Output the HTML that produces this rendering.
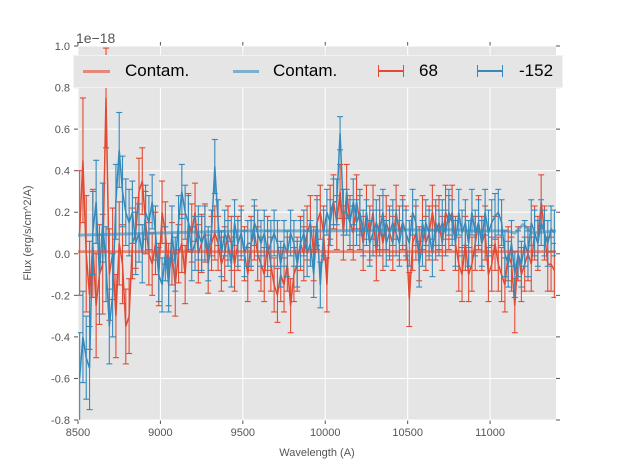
<!DOCTYPE html>
<html><head><meta charset="utf-8"><style>
body{margin:0;background:#fff;width:617px;height:467px;overflow:hidden}
svg{display:block;font-family:"Liberation Sans",sans-serif}
</style></head><body>
<svg id="chart" width="617" height="467" xmlns="http://www.w3.org/2000/svg"></svg>
<script>
const redFlux=[0.1,0.45,0.0,-0.2,0.05,-0.25,-0.1,-0.05,0.75,-0.1,
0.0,-0.3,0.05,-0.05,-0.35,-0.3,0.05,0.1,0.3,0.35,
0.15,0.0,-0.05,0.05,-0.1,0.2,0.1,-0.1,0.0,-0.15,
0.0,0.05,-0.1,0.15,0.1,0.2,0.0,0.05,0.1,-0.05,
0.05,0.1,0.05,-0.05,0.0,0.1,0.05,-0.05,0.05,0.1,
0.0,-0.1,0.05,0.1,0.0,-0.05,-0.1,0.05,-0.05,-0.15,
-0.2,-0.1,-0.15,-0.05,-0.25,-0.1,-0.05,0.05,0.0,0.1,
0.15,0.0,0.15,0.2,0.1,-0.15,0.2,0.25,0.15,0.3,
0.1,0.3,0.15,0.1,0.25,0.15,0.05,0.2,0.1,0.2,
0.0,0.15,0.05,0.15,0.1,0.05,0.2,0.1,0.15,0.1,
-0.22,0.05,0.1,0.0,0.15,0.05,0.1,0.2,0.1,0.15,
0.05,0.2,0.15,0.2,0.05,-0.05,-0.1,0.05,-0.1,-0.05,
0.05,0.15,0.05,0.1,-0.1,-0.05,0.05,-0.05,-0.1,-0.15,
0.0,-0.05,-0.25,0.0,-0.1,-0.05,0.0,-0.05,0.1,0.05,
0.25,0.1,-0.05,-0.05,-0.08];
const blueFlux=[-0.6,-0.4,-0.5,-0.55,0.1,0.25,-0.1,0.15,-0.05,-0.35,
-0.2,0.25,0.5,0.3,0.2,0.15,0.2,0.05,0.1,0.0,
0.2,0.15,0.25,0.1,-0.1,-0.15,0.0,-0.15,0.1,-0.05,
0.15,0.3,0.2,0.15,0.0,0.05,0.1,0.05,0.1,0.0,
0.1,0.42,0.15,0.0,0.1,0.05,-0.05,0.15,0.05,0.1,
0.0,0.05,0.05,0.15,0.1,0.05,0.1,0.0,0.05,0.1,
0.05,-0.05,0.05,0.0,0.1,0.05,-0.05,0.05,0.1,0.0,
0.05,-0.1,0.15,-0.15,0.1,0.2,0.15,0.25,0.25,0.58,
0.2,0.2,0.15,0.25,0.15,0.2,0.1,0.15,0.05,0.1,
0.15,0.1,0.2,0.05,0.1,0.15,0.1,0.05,0.15,0.1,
0.05,0.2,0.15,-0.05,0.05,0.15,0.1,0.0,0.15,0.1,
0.15,0.1,0.2,0.15,0.05,0.2,0.1,0.15,0.05,0.2,
0.1,0.15,0.05,0.2,0.1,0.15,0.18,0.2,0.15,0.0,
-0.05,0.05,-0.1,0.0,-0.05,0.05,0.0,0.15,0.1,0.05,
0.15,0.1,0.05,0.12,0.1];
const redErr=[0.3,0.3,0.28,0.26,0.26,0.25,0.24,0.24,0.24,0.22,
0.22,0.2,0.2,0.19,0.18,0.18,0.17,0.17,0.16,0.16,
0.15,0.15,0.15,0.15,0.15,0.15,0.15,0.15,0.15,0.15,
0.14,0.14,0.14,0.14,0.14,0.14,0.14,0.14,0.14,0.14,
0.13,0.13,0.13,0.13,0.13,0.13,0.13,0.13,0.13,0.13,
0.13,0.13,0.13,0.13,0.13,0.13,0.13,0.13,0.13,0.13,
0.13,0.13,0.13,0.13,0.13,0.13,0.13,0.13,0.13,0.13,
0.13,0.13,0.13,0.13,0.13,0.13,0.13,0.13,0.13,0.13,
0.13,0.13,0.13,0.13,0.13,0.13,0.13,0.13,0.13,0.13,
0.13,0.13,0.13,0.13,0.13,0.13,0.13,0.13,0.13,0.13,
0.13,0.13,0.13,0.13,0.13,0.13,0.13,0.13,0.13,0.13,
0.13,0.13,0.13,0.13,0.13,0.13,0.13,0.13,0.13,0.13,
0.13,0.13,0.13,0.13,0.13,0.13,0.13,0.13,0.13,0.13,
0.13,0.13,0.13,0.13,0.13,0.13,0.13,0.13,0.13,0.13,
0.13,0.13,0.13,0.13,0.13];
const blueErr=[0.22,0.22,0.2,0.2,0.2,0.2,0.19,0.19,0.18,0.18,
0.2,0.18,0.18,0.17,0.16,0.16,0.15,0.15,0.14,0.14,
0.13,0.13,0.13,0.13,0.13,0.13,0.13,0.13,0.13,0.13,
0.13,0.13,0.13,0.13,0.13,0.13,0.13,0.13,0.13,0.13,
0.11,0.13,0.11,0.11,0.11,0.11,0.11,0.11,0.11,0.11,
0.11,0.11,0.11,0.11,0.11,0.11,0.11,0.11,0.11,0.11,
0.11,0.11,0.11,0.11,0.11,0.11,0.11,0.11,0.11,0.11,
0.11,0.11,0.11,0.11,0.11,0.11,0.11,0.11,0.11,0.08,
0.11,0.11,0.11,0.11,0.11,0.11,0.11,0.11,0.11,0.11,
0.11,0.11,0.11,0.11,0.11,0.11,0.11,0.11,0.11,0.11,
0.11,0.11,0.11,0.11,0.11,0.11,0.11,0.11,0.11,0.11,
0.11,0.11,0.11,0.11,0.11,0.11,0.11,0.11,0.11,0.11,
0.11,0.11,0.11,0.11,0.11,0.11,0.11,0.11,0.11,0.11,
0.11,0.11,0.11,0.11,0.11,0.11,0.11,0.11,0.11,0.11,
0.11,0.11,0.11,0.11,0.11];
const redContam=[0.01,0.01];
const blueContam=[0.09,0.1,0.11,0.11,0.115,0.115,0.11,0.11,0.11,0.1,0.14,0.1,0.11];
const contamX=[8500,9000,9500,10000,10500,10800,10900,11000,11100,11150,11200,11260,11400];
const xTicks=[8500,9000,9500,10000,10500,11000];
const yTicks=[-0.8,-0.6,-0.4,-0.2,0.0,0.2,0.4,0.6,0.8,1.0];
const wlStart=8510, wlStep=20;

const L=78,R=556,T=46,B=420,X0=8500,X1=11400,Y0=-0.8,Y1=1.0;
const sx=v=>L+(v-X0)/(X1-X0)*(R-L), sy=v=>B-(v-Y0)/(Y1-Y0)*(B-T);
const svg=document.getElementById('chart');const NS='http://www.w3.org/2000/svg';
function mk(t,a,p){const e=document.createElementNS(NS,t);for(const k in a)e.setAttribute(k,a[k]);(p||svg).appendChild(e);return e;}
const bg=mk('rect',{x:L,y:T,width:R-L,height:B-T,fill:'#e5e5e5'});


xTicks.forEach(v=>{const g=mk('line',{x1:sx(v),x2:sx(v),y1:T,y2:B,stroke:'#fff','stroke-width':1});


mk('line',{x1:sx(v),x2:sx(v),y1:B,y2:B+4,stroke:'#555'});mk('line',{x1:sx(v),x2:sx(v),y1:T,y2:T-4,stroke:'#555'});
const t=mk('text',{x:sx(v),y:B+16,'text-anchor':'middle','font-size':11,fill:'#555'});t.textContent=v;

});
yTicks.forEach(v=>{const g=mk('line',{x1:L,x2:R,y1:sy(v),y2:sy(v),stroke:'#fff','stroke-width':1});


mk('line',{x1:L-4,x2:L,y1:sy(v),y2:sy(v),stroke:'#555'});mk('line',{x1:R,x2:R+4,y1:sy(v),y2:sy(v),stroke:'#555'});
const t=mk('text',{x:L-8,y:sy(v)+4,'text-anchor':'end','font-size':11,fill:'#555'});t.textContent=v.toFixed(1);

});
const clip=mk('clipPath',{id:'c'});mk('rect',{x:L,y:T,width:R-L,height:B-T},clip);
const plot=mk('g',{'clip-path':'url(#c)'});


function series(vals,errs,col,name){
  const g=mk('g',{},plot);
  
  
  let d='';
  vals.forEach((v,i)=>{const x=sx(wlStart+i*wlStep);d+=(i?'L':'M')+x.toFixed(1)+' '+sy(v).toFixed(1);
    const e=errs[i];const y1=sy(v-e),y2=sy(v+e);
    mk('line',{x1:x,x2:x,y1:y1,y2:y2,stroke:col,'stroke-width':1.1},g);
    mk('line',{x1:x-3,x2:x+3,y1:y1,y2:y1,stroke:col,'stroke-width':1.1},g);
    mk('line',{x1:x-3,x2:x+3,y1:y2,y2:y2,stroke:col,'stroke-width':1.1},g);});
  mk('path',{d:d,fill:'none',stroke:col,'stroke-width':1.5},g);
}
function contam(vals,col,name){let d='';
  if(vals.length===2){d='M'+sx(X0)+' '+sy(vals[0])+'L'+sx(X1)+' '+sy(vals[1]);}
  else vals.forEach((v,i)=>{d+=(i?'L':'M')+sx(contamX[i]).toFixed(1)+' '+sy(v).toFixed(1);});
  const p=mk('path',{d:d,fill:'none',stroke:col,'stroke-width':3,opacity:0.6},plot);
  
  }
series(redFlux,redErr,'#E24A33','series-68');
series(blueFlux,blueErr,'#348ABD','series-minus-152');
contam(redContam,'#E24A33','contam-red');
contam(blueContam,'#348ABD','contam-blue');
</script>
<div style="position:absolute;left:73px;top:55px;width:488px;height:31px;background:#e5e5e5;border:1px solid #f2f2f2;font-family:'Liberation Sans',sans-serif;font-size:17px;color:#000">
 <div><span style="position:absolute;left:9px;top:14px;width:27px;height:3px;background:#E24A33;opacity:.6"></span><span style="position:absolute;left:51px;top:5px">Contam.</span></div>
 <div><span style="position:absolute;left:159px;top:14px;width:26px;height:3px;background:#348ABD;opacity:.6"></span><span style="position:absolute;left:199px;top:5px">Contam.</span></div>
 <div><span style="position:absolute;left:304px;top:9px;width:24px;height:12px;border-left:1.5px solid #E24A33;border-right:1.5px solid #E24A33"></span><span style="position:absolute;left:305px;top:14px;width:24px;height:1.5px;background:#E24A33"></span><span style="position:absolute;left:345px;top:5px">68</span></div>
 <div><span style="position:absolute;left:403px;top:9px;width:24px;height:12px;border-left:1.5px solid #348ABD;border-right:1.5px solid #348ABD"></span><span style="position:absolute;left:404px;top:14px;width:24px;height:1.5px;background:#348ABD"></span><span style="position:absolute;left:445px;top:5px">-152</span></div>
</div>
<div style="position:absolute;left:76px;top:30px;font:14px 'Liberation Sans',sans-serif;color:#555">1e−18</div>
<div style="position:absolute;left:0;width:634px;text-align:center;top:447px;font:11px 'Liberation Sans',sans-serif;color:#555">Wavelength (A)</div>
<div style="position:absolute;left:28px;top:233px;transform:translate(-50%,-50%) rotate(-90deg);white-space:nowrap;font:11px 'Liberation Sans',sans-serif;color:#555">Flux (erg/s/cm^2/A)</div>
</body></html>
